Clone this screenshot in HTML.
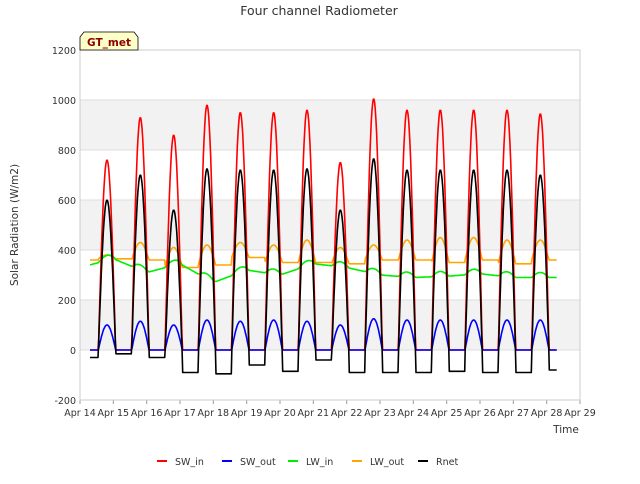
<!DOCTYPE html>
<html><head><meta charset="utf-8"><style>
body{margin:0;background:#fff;font-family:"DejaVu Sans",sans-serif}
svg text{font-family:"DejaVu Sans","Liberation Sans",sans-serif}
</style></head><body>
<svg id="chart" width="640" height="480" viewBox="0 0 640 480" xmlns="http://www.w3.org/2000/svg">
<text x="319" y="15" font-size="12.5" fill="#333" text-anchor="middle">Four channel Radiometer</text>
<g id="plot"></g>
<g>
<path d="M80,50 L80,37 L84,32 L134,32 L138,37 L138,50 Z" fill="#ffffc8" stroke="#000" stroke-width="0.8"/>
<text x="109" y="46" font-size="10.5" font-weight="bold" fill="#8b0000" text-anchor="middle">GT_met</text>
</g>
<text transform="translate(18,225) rotate(-90)" font-size="10.5" fill="#333" text-anchor="middle">Solar Radiation (W/m2)</text>
<text x="566" y="433" font-size="10.5" fill="#333" text-anchor="middle">Time</text>
<g id="legend"></g>
</svg>
<script>
const yTicks=[-200,0,200,400,600,800,1000,1200];
const xTickLabels=["Apr 14","Apr 15","Apr 16","Apr 17","Apr 18","Apr 19","Apr 20","Apr 21","Apr 22","Apr 23","Apr 24","Apr 25","Apr 26","Apr 27","Apr 28","Apr 29"];
const seriesNames=["SW_in","SW_out","LW_in","LW_out","Rnet"];
const seriesColors=["#ff0000","#0000ff","#00ee00","#ffa500","#000000"];
// per diurnal cycle (Apr 14 .. Apr 27)
const swInPeak=[760,930,860,980,950,950,960,750,1005,960,960,960,960,945];
const swOutPeak=[100,115,100,120,115,120,115,100,125,120,120,120,120,120];
const rnetPeak=[600,700,560,725,720,720,725,560,765,720,720,720,720,700];
const rnetNight=[-10,-15,-30,-90,-95,-60,-85,-40,-90,-90,-90,-85,-90,-90,-80];
const lwOutMax=[380,430,410,420,430,420,440,410,420,440,450,450,440,440];
const lwOutMin=[360,365,360,330,340,370,350,350,345,360,360,350,360,345,360];
// per day start (Apr 14 .. Apr 28)
const lwInDay=[330,365,310,345,270,320,300,345,330,300,290,295,305,290,290];

const X0=80,X1=580,Y0=400,Y1=50;
const xs=d=>X0+(d-14)*(X1-X0)/15;
const ys=v=>Y0-(v+200)*(Y0-Y1)/1400;
const NS="http://www.w3.org/2000/svg";
function mk(t,a,p){const e=document.createElementNS(NS,t);for(const k in a)e.setAttribute(k,a[k]);p.appendChild(e);return e;}
const plot=document.getElementById('plot');
mk('rect',{x:X0,y:Y1,width:X1-X0,height:Y0-Y1,fill:'#fff'},plot);
for(let i=0;i<yTicks.length-1;i++){
  if(yTicks[i]===0||yTicks[i]===400||yTicks[i]===800){
    const b=mk('rect',{x:X0,y:ys(yTicks[i+1]),width:X1-X0,height:ys(yTicks[i])-ys(yTicks[i+1]),fill:'#f2f2f2'},plot);
    
    
  }
}
yTicks.forEach(v=>{
  mk('line',{x1:X0,x2:X1,y1:ys(v),y2:ys(v),stroke:'#dddddd','stroke-width':1},plot);
  const t=mk('text',{x:X0-4,y:ys(v)+4,'font-size':9.5,fill:'#333','text-anchor':'end'},plot);
  t.textContent=v;
  
  
});
xTickLabels.forEach((l,i)=>{
  mk('line',{x1:xs(14+i),x2:xs(14+i),y1:Y0,y2:Y0+4,stroke:'#999'},plot);
  const t=mk('text',{x:xs(14+i),y:Y0+16,'font-size':9.5,fill:'#333','text-anchor':'middle'},plot);
  t.textContent=l;
  
  
});
mk('rect',{x:X0,y:Y1,width:X1-X0,height:Y0-Y1,fill:'none',stroke:'#cccccc'},plot);

function shape(t){const p=t-0.55-Math.floor(t-0.55);const c=Math.floor(t-0.55);return {c:c,s:p<0.52?Math.sin(Math.PI*p/0.52):0,p:p};}
const pts=[[],[],[],[],[]];
for(let t=0.3;t<=14.3;t+=0.02){
  const {c,s,p}=shape(t);const ci=Math.max(0,Math.min(13,c));
  const sw=c<0?0:swInPeak[ci]*s;
  const so=c<0?0:swOutPeak[ci]*s;
  const di=Math.min(14,Math.floor(t)),fr=t-Math.floor(t);
  const li=lwInDay[di]+(lwInDay[Math.min(14,di+1)]-lwInDay[di])*fr+(c<0?0:20*s);
  const nIdx=Math.max(0,Math.min(14,c+1));
  const lo=(c<0?lwOutMin[0]:lwOutMin[nIdx]+(lwOutMax[ci]-lwOutMin[nIdx])*s);
  const night=c<0?-30:rnetNight[nIdx];
  const rn=c<0?-30:(s>0?rnetPeak[ci]*s+night*(1-s)*0.3:night);
  const d=14+t;
  pts[0].push([d,sw]);pts[1].push([d,so]);pts[2].push([d,li]);pts[3].push([d,lo]);pts[4].push([d,rn]);
}
const order=[3,2,0,1,4];
order.forEach(k=>{
  const p=mk('polyline',{points:pts[k].map(q=>xs(q[0]).toFixed(1)+','+ys(q[1]).toFixed(1)).join(' '),fill:'none',stroke:seriesColors[k],'stroke-width':1.6,'stroke-linejoin':'round'},plot);
  
  
});
const lg=document.getElementById('legend');
const lx=[157,222,288,352,418];
seriesNames.forEach((n,i)=>{
  const g=mk('g',{},lg);
  
  
  mk('line',{x1:lx[i],x2:lx[i]+10,y1:461,y2:461,stroke:seriesColors[i],'stroke-width':2},g);
  const t=mk('text',{x:lx[i]+18,y:465,'font-size':9.5,fill:'#333'},g);
  t.textContent=n;
});
</script>
</body></html>
